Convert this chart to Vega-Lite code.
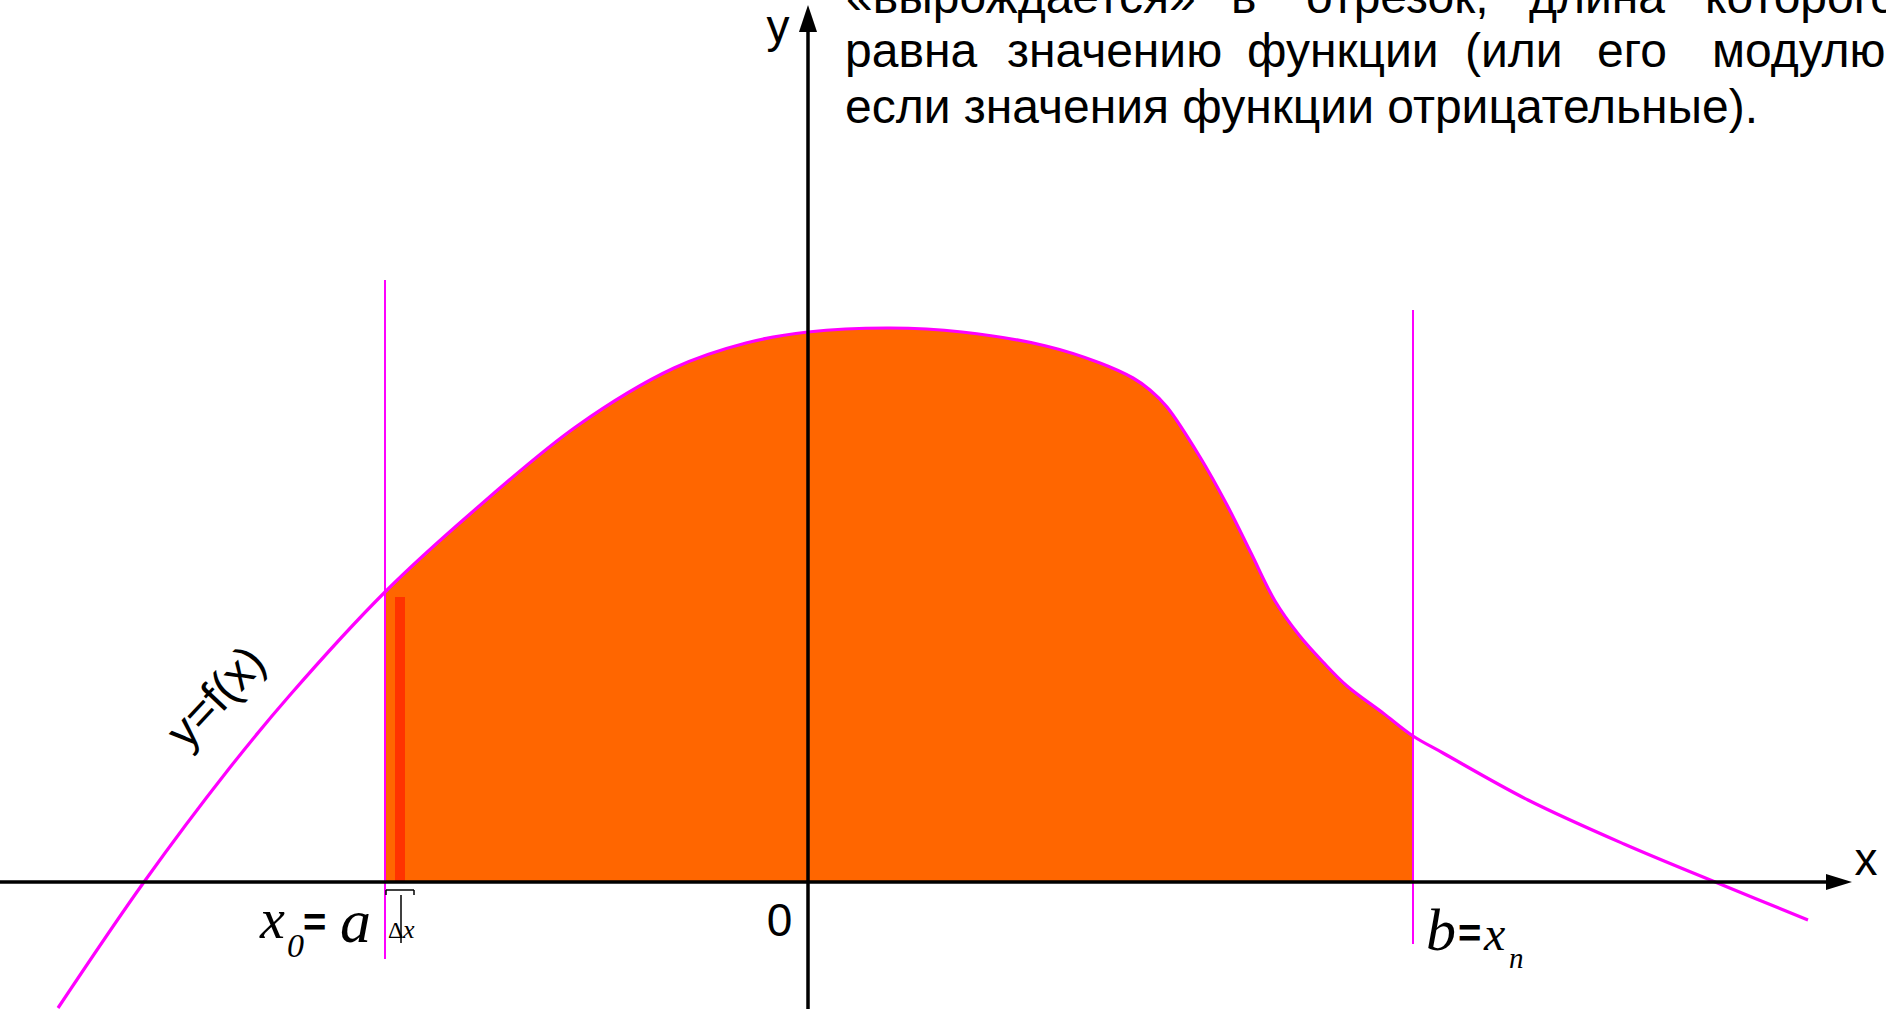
{
  "$schema": "https://vega.github.io/schema/vega-lite/v6.json",
  "width": 1886,
  "height": 1009,
  "autosize": {"type": "none"},
  "padding": 0,
  "background": "white",
  "config": {"view": {"stroke": null}},
  "datasets": {
    "curve": [
      {"x": -7.50, "y": -1.26}, {"x": -6.64, "y": 0.00}, {"x": -5.80, "y": 1.12}, {"x": -5.18, "y": 1.87},
      {"x": -4.23, "y": 2.90}, {"x": -3.38, "y": 3.68}, {"x": -2.31, "y": 4.56}, {"x": -1.34, "y": 5.14},
      {"x": -0.62, "y": 5.39}, {"x": 0.00, "y": 5.50}, {"x": 0.82, "y": 5.54}, {"x": 1.54, "y": 5.50},
      {"x": 2.38, "y": 5.36}, {"x": 2.92, "y": 5.19}, {"x": 3.25, "y": 5.04}, {"x": 3.42, "y": 4.92},
      {"x": 3.59, "y": 4.75},
      {"x": 3.92, "y": 4.25}, {"x": 4.19, "y": 3.77}, {"x": 4.43, "y": 3.29}, {"x": 4.67, "y": 2.81},
      {"x": 4.91, "y": 2.47}, {"x": 5.15, "y": 2.20}, {"x": 5.39, "y": 1.96}, {"x": 5.75, "y": 1.69},
      {"x": 6.05, "y": 1.46}, {"x": 6.35, "y": 1.29}, {"x": 7.20, "y": 0.82}, {"x": 8.16, "y": 0.38},
      {"x": 9.12, "y": -0.02}, {"x": 10.00, "y": -0.38}
    ],
    "strip": [{"x": -4.13, "x2": -4.03, "y": 0, "y2": 2.85}],
    "boundaries": [
      {"x": -4.23, "y": -0.77, "y2": 6.02},
      {"x": 6.05, "y": -0.62, "y2": 5.72}
    ],
    "axisH": [{"x": -8.08, "x2": 10.35, "y": 0}],
    "axisV": [{"x": 0, "y": -1.27, "y2": 8.60}],
    "arrowX": [{"x": 10.31, "y": 0}],
    "arrowY": [{"x": 0, "y": 8.635}],
    "bracketH": [{"x": -4.22, "x2": -3.94, "y": -0.08}],
    "bracketV": [
      {"x": -4.22, "y": -0.08, "y2": -0.13},
      {"x": -3.94, "y": -0.08, "y2": -0.13},
      {"x": -4.07, "y": -0.13, "y2": -0.61}
    ],
    "paragraph": [
      {"x": 0.38, "y": 8.69, "text": "«вырождается»"},
      {"x": 4.23, "y": 8.69, "text": "в"},
      {"x": 4.98, "y": 8.69, "text": "отрезок,"},
      {"x": 7.21, "y": 8.69, "text": "длина"},
      {"x": 8.97, "y": 8.69, "text": "которого"},
      {"x": 0.37, "y": 8.15, "text": "равна"},
      {"x": 1.99, "y": 8.15, "text": "значению"},
      {"x": 4.39, "y": 8.15, "text": "функции"},
      {"x": 6.57, "y": 8.15, "text": "(или"},
      {"x": 7.89, "y": 8.15, "text": "его"},
      {"x": 9.04, "y": 8.15, "text": "модулю,"},
      {"x": 0.37, "y": 7.59, "text": "если значения функции отрицательные)."}
    ],
    "axisLabels": [
      {"x": -0.30, "y": 8.40, "text": "y"},
      {"x": 10.58, "y": 0.07, "text": "x"},
      {"x": -0.285, "y": -0.54, "text": "0"}
    ],
    "fLabel": [{"x": -5.91, "y": 1.84, "text": "y=f(x)"}],
    "xBig": [{"x": -5.48, "y": -0.56, "text": "x"}],
    "subZero": [{"x": -5.21, "y": -0.75, "text": "0"}],
    "equals": [
      {"x": -5.05, "y": -0.54, "text": "="},
      {"x": 6.50, "y": -0.65, "text": "="}
    ],
    "aLabel": [{"x": -4.68, "y": -0.60, "text": "a"}],
    "delta": [{"x": -4.20, "y": -0.56, "text": "Δ"}],
    "deltaX": [{"x": -4.05, "y": -0.56, "text": "x"}],
    "bLabel": [{"x": 6.18, "y": -0.68, "text": "b"}],
    "xn": [{"x": 6.76, "y": -0.68, "text": "x"}],
    "subN": [{"x": 7.01, "y": -0.86, "text": "n"}]
  },
  "encoding": {
    "x": {"field": "x", "type": "quantitative", "scale": {"domain": [-8.08, 10.78], "nice": false, "zero": false}, "axis": null},
    "y": {"field": "y", "type": "quantitative", "scale": {"domain": [-1.27, 8.82], "nice": false, "zero": false}, "axis": null}
  },
  "layer": [
    {
      "data": {"name": "curve"},
      "transform": [{"filter": "datum.x >= -4.23 && datum.x <= 6.05"}],
      "mark": {"type": "area", "interpolate": "catmull-rom", "color": "#FF6600", "opacity": 1},
      "encoding": {"y2": {"datum": 0}}
    },
    {
      "data": {"name": "strip"},
      "mark": {"type": "rect", "color": "#FF3300"},
      "encoding": {"x2": {"field": "x2"}, "y2": {"field": "y2"}}
    },
    {
      "data": {"name": "boundaries"},
      "mark": {"type": "rule", "color": "#FF00FF", "strokeWidth": 2},
      "encoding": {"y2": {"field": "y2"}}
    },
    {
      "data": {"name": "curve"},
      "mark": {"type": "line", "interpolate": "catmull-rom", "color": "#FF00FF", "strokeWidth": 3.2},
      "encoding": {}
    },
    {
      "data": {"name": "axisH"},
      "mark": {"type": "rule", "color": "black", "strokeWidth": 3.5},
      "encoding": {"x2": {"field": "x2"}}
    },
    {
      "data": {"name": "axisV"},
      "mark": {"type": "rule", "color": "black", "strokeWidth": 3.5},
      "encoding": {"y2": {"field": "y2"}}
    },
    {
      "data": {"name": "arrowX"},
      "mark": {"type": "point", "shape": "M1,0L-1,-0.62L-1,0.62Z", "size": 676, "filled": true, "color": "black", "opacity": 1, "strokeWidth": 0}
    },
    {
      "data": {"name": "arrowY"},
      "mark": {"type": "point", "shape": "M0,-1L-0.67,1L0.67,1Z", "size": 729, "filled": true, "color": "black", "opacity": 1, "strokeWidth": 0}
    },
    {
      "data": {"name": "bracketH"},
      "mark": {"type": "rule", "color": "black", "strokeWidth": 1.5},
      "encoding": {"x2": {"field": "x2"}}
    },
    {
      "data": {"name": "bracketV"},
      "mark": {"type": "rule", "color": "black", "strokeWidth": 1.5},
      "encoding": {"y2": {"field": "y2"}}
    },
    {
      "data": {"name": "paragraph"},
      "mark": {"type": "text", "font": "Liberation Sans", "fontSize": 48, "align": "left", "baseline": "alphabetic", "color": "black"},
      "encoding": {"text": {"field": "text"}}
    },
    {
      "data": {"name": "axisLabels"},
      "mark": {"type": "text", "font": "Liberation Sans", "fontSize": 46, "align": "center", "baseline": "alphabetic", "color": "black"},
      "encoding": {"text": {"field": "text"}}
    },
    {
      "data": {"name": "fLabel"},
      "mark": {"type": "text", "font": "Liberation Sans", "fontSize": 47, "align": "center", "baseline": "middle", "angle": -47, "color": "black"},
      "encoding": {"text": {"field": "text"}}
    },
    {
      "data": {"name": "xBig"},
      "mark": {"type": "text", "font": "Liberation Serif", "fontStyle": "italic", "fontSize": 56, "align": "left", "baseline": "alphabetic", "color": "black"},
      "encoding": {"text": {"field": "text"}}
    },
    {
      "data": {"name": "subZero"},
      "mark": {"type": "text", "font": "Liberation Serif", "fontStyle": "italic", "fontSize": 34, "align": "left", "baseline": "alphabetic", "color": "black"},
      "encoding": {"text": {"field": "text"}}
    },
    {
      "data": {"name": "equals"},
      "mark": {"type": "text", "font": "Liberation Sans", "fontWeight": "bold", "fontSize": 40, "align": "left", "baseline": "alphabetic", "color": "black"},
      "encoding": {"text": {"field": "text"}}
    },
    {
      "data": {"name": "aLabel"},
      "mark": {"type": "text", "font": "Liberation Serif", "fontStyle": "italic", "fontSize": 62, "align": "left", "baseline": "alphabetic", "color": "black"},
      "encoding": {"text": {"field": "text"}}
    },
    {
      "data": {"name": "delta"},
      "mark": {"type": "text", "font": "Liberation Serif", "fontSize": 24, "align": "left", "baseline": "alphabetic", "color": "black"},
      "encoding": {"text": {"field": "text"}}
    },
    {
      "data": {"name": "deltaX"},
      "mark": {"type": "text", "font": "Liberation Serif", "fontStyle": "italic", "fontSize": 26, "align": "left", "baseline": "alphabetic", "color": "black"},
      "encoding": {"text": {"field": "text"}}
    },
    {
      "data": {"name": "bLabel"},
      "mark": {"type": "text", "font": "Liberation Serif", "fontStyle": "italic", "fontSize": 60, "align": "left", "baseline": "alphabetic", "color": "black"},
      "encoding": {"text": {"field": "text"}}
    },
    {
      "data": {"name": "xn"},
      "mark": {"type": "text", "font": "Liberation Serif", "fontStyle": "italic", "fontSize": 48, "align": "left", "baseline": "alphabetic", "color": "black"},
      "encoding": {"text": {"field": "text"}}
    },
    {
      "data": {"name": "subN"},
      "mark": {"type": "text", "font": "Liberation Serif", "fontStyle": "italic", "fontSize": 29, "align": "left", "baseline": "alphabetic", "color": "black"},
      "encoding": {"text": {"field": "text"}}
    }
  ]
}
